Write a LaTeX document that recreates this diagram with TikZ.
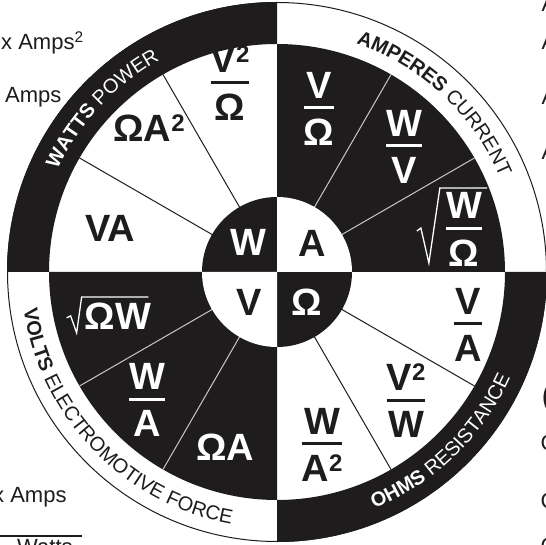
\documentclass[tikz,border=0pt]{standalone}
\usepackage{fontspec}
\setmainfont{Liberation Sans}
\usetikzlibrary{decorations.text,calc}
\definecolor{ink}{RGB}{30,28,28}
\definecolor{lite}{RGB}{200,200,200}
\newcommand\sqd{\raisebox{10pt}{\fontsize{24}{24}\selectfont 2}}
\newcommand\frc[2]{\vbox{\halign{\hfil##\hfil\cr #1\cr\noalign{\kern 8pt\hrule height 3pt\kern 10pt}#2\cr}}}
\newcommand\bandb{\fontsize{20}{20}\selectfont\bfseries}
\newcommand\bandm{\fontsize{20}{20}\selectfont\mdseries}
\begin{document}
\begin{tikzpicture}[x=1pt,y=1pt,
  big/.style={font=\fontsize{38}{40}\selectfont\bfseries, inner sep=0pt},
  wt/.style={big,text=white},
  bk/.style={big,text=ink},
  edgetxt/.style={font=\fontsize{22}{24}\selectfont, text=ink, inner sep=0pt, anchor=base west},
  darkline/.style={draw=ink, line width=1pt},
  liteline/.style={draw=lite, line width=1pt},
  radical/.style={draw=white, line width=1.3pt, line join=miter}]
\useasboundingbox (0,0) rectangle (546,544);
\clip (0,0) rectangle (546,544);
\fill[white] (0,0) rectangle (546,544);
\begin{scope}[shift={(277,272)}]
  \fill[white] (0,0) circle (270);
  % bands
  \fill[ink] (90:228) arc[start angle=90,end angle=180,radius=228] -- (180:270) arc[start angle=180,end angle=90,radius=270] -- cycle;
  \fill[ink] (270:228) arc[start angle=270,end angle=360,radius=228] -- (0:270) arc[start angle=360,end angle=270,radius=270] -- cycle;
  % black sectors
  \fill[ink] (0,0) -- (0:228) arc[start angle=0,end angle=90,radius=228] -- cycle;
  \fill[ink] (0,0) -- (180:228) arc[start angle=180,end angle=270,radius=228] -- cycle;
  % inner circle quadrants
  \fill[ink] (0,0) -- (90:75) arc[start angle=90,end angle=180,radius=75] -- cycle;
  \fill[ink] (0,0) -- (270:75) arc[start angle=270,end angle=360,radius=75] -- cycle;
  \fill[white] (0,0) -- (0:75) arc[start angle=0,end angle=90,radius=75] -- cycle;
  \fill[white] (0,0) -- (180:75) arc[start angle=180,end angle=270,radius=75] -- cycle;
  \draw[ink, line width=1pt] (0,0) circle (269.5);
  % sector lines
  \draw[darkline] (120:75) -- (120:228);
  \draw[darkline] (150:75) -- (150:228);
  \draw[darkline] (300:75) -- (300:228);
  \draw[darkline] (330:75) -- (330:228);
  \draw[liteline] (30:75) -- (30:228);
  \draw[liteline] (60:75) -- (60:228);
  \draw[liteline] (210:75) -- (210:228);
  \draw[liteline] (240:75) -- (240:228);
  % band texts
  \path[decorate, decoration={text along path, text align=center, text color=white,
      text={|\bandb|WATTS |\bandm|POWER}}]
    (182:242) arc[start angle=182, end angle=92, radius=242];
  \path[decorate, decoration={text along path, text align=center, text color=ink,
      text={|\bandb|AMPERES |\bandm|CURRENT}}]
    (92:242) arc[start angle=92, end angle=2, radius=242];
  \path[decorate, decoration={text along path, text align=center, text color=white,
      text={|\bandb|OHMS |\bandm|RESISTANCE}}]
    (269:256) arc[start angle=269, end angle=359, radius=256];
  \path[decorate, decoration={text along path, text align=center, text color=ink,
      text={|\bandb|VOLTS |\bandm|ELECTROMOTIVE FORCE}}]
    (174:256) arc[start angle=174, end angle=274, radius=256];
\end{scope}
% inner letters
\node[wt] (iw) at (248,302) {W};
\node[bk] (ia) at (312,301) {A};
\node[bk] (iv) at (249,242) {V};
\node[wt] (io) at (307,242) {Ω};
% watts sectors
\node[bk] (w1) at (230,461) {\frc{V\sqd}{Ω}};
\node[bk] (w2) at (149,416) {ΩA\sqd};
\node[bk] (w3) at (110,316) {VA};
% amperes sectors
\node[wt] (a1) at (319,435) {\frc{V}{Ω}};
\node[wt] (a2) at (404,397) {\frc{W}{V}};
\node[wt] (a3) at (464,314.5) {\frc{W}{Ω}};
\draw[radical] ($(a3.south west)+(-29,35.5)$) -- ($(a3.south west)+(-25,38.5)$)
  -- ($(a3.south west)+(-17,3.5)$) -- ($(a3.north west)+(-6,4.5)$) -- ($(a3.north east)+(5,4.5)$);
% ohms sectors
\node[bk] (o1) at (468,219) {\frc{V}{A}};
\node[bk] (o2) at (406,143) {\frc{V\sqd}{W}};
\node[bk] (o3) at (322,99) {\frc{W}{A\sqd}};
% volts sectors
\node[wt] (v1) at (118,228) {ΩW};
\draw[radical] ($(v1.south west)+(-18,11.6)$) -- ($(v1.south west)+(-14,13.6)$)
  -- ($(v1.south west)+(-8,-3.4)$) -- ($(v1.north west)+(-3,5.5)$) -- ($(v1.north east)+(-3,5.5)$);
\node[wt] (v2) at (147,144) {\frc{W}{A}};
\node[wt] (v3) at (225,97) {ΩA};
% cropped texts at the edges
\node[edgetxt] (l1) at (1,494) {x Amps\textsuperscript{2}};
\node[edgetxt] (l2) at (5,441) {Amps};
\node[edgetxt] (l3) at (-7,42) {x Amps};
\coordinate (rl) at (0,8);
\coordinate (rr) at (82,8);
\draw[ink, line width=1.2pt] (rl) -- (rr);
\node[edgetxt] (l4) at (17,-10) {Watts};
\node[edgetxt] (r1) at (541.5,532) {A};
\node[edgetxt] (r2) at (541.5,494) {A};
\node[edgetxt] (r3) at (541.5,439) {A};
\node[edgetxt] (r4) at (541.5,384) {A};
\node[edgetxt, font=\fontsize{32}{34}\selectfont] (r5) at (541.5,138) {(};
\node[edgetxt] (r6) at (540.5,94) {C};
\node[edgetxt] (r7) at (540.5,36) {C};
\node[edgetxt] (r8) at (540.5,-9) {C};
\end{tikzpicture}
\end{document}
